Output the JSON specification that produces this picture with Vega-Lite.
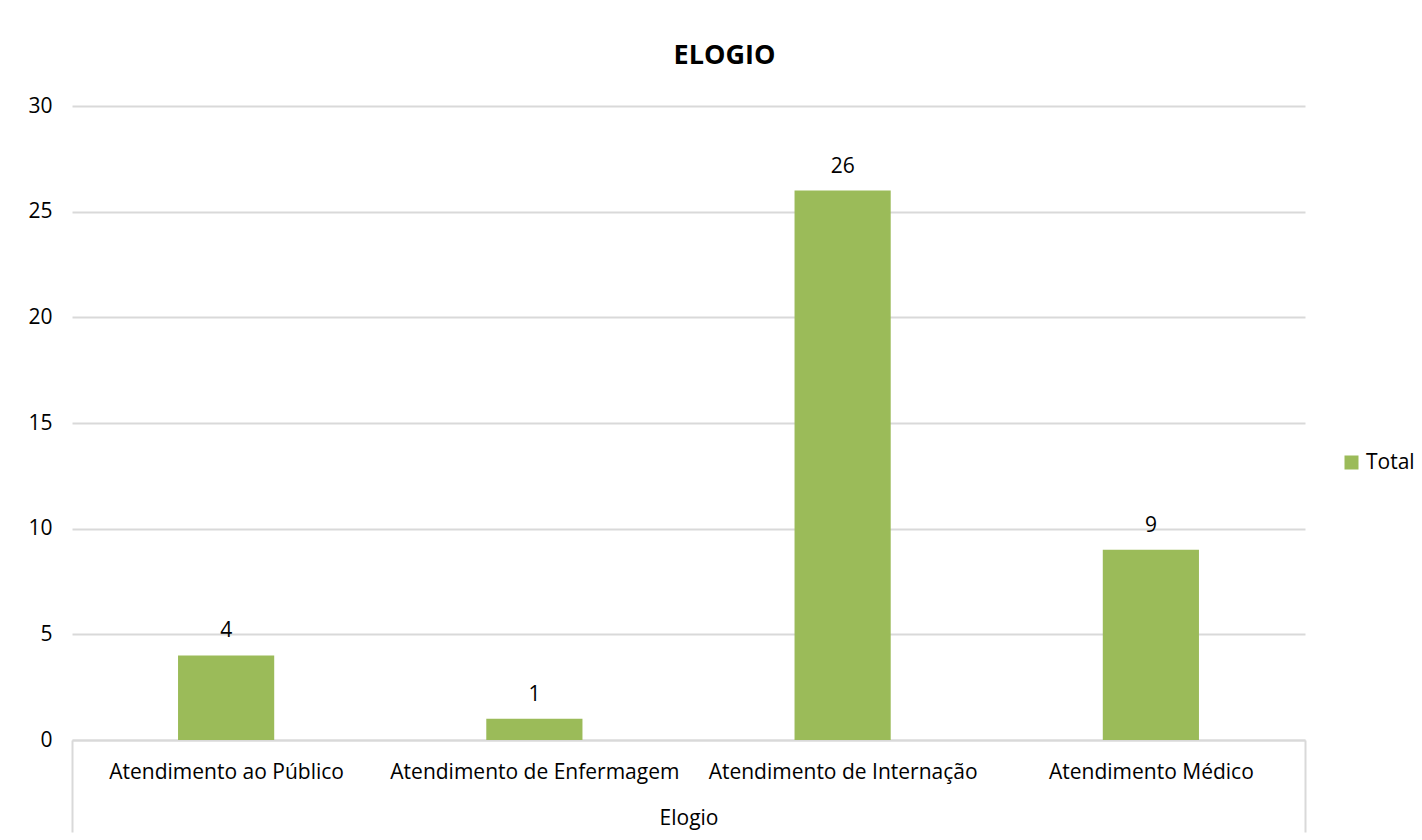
{
  "$schema": "https://vega.github.io/schema/vega-lite/v6.json",
  "autosize": {"type": "none"},
  "width": 1233,
  "height": 634,
  "padding": {"left": 72, "top": 106, "right": 117, "bottom": 100},
  "background": "white",
  "config": {
    "font": "Open Sans",
    "view": {"stroke": null}
  },
  "title": {
    "text": "ELOGIO",
    "fontSize": 27,
    "fontWeight": "bold",
    "color": "#000000",
    "font": "Open Sans",
    "anchor": "middle",
    "dx": 36,
    "offset": 25
  },
  "data": {
    "values": [
      {"categoria": "Atendimento ao Público", "total": 4, "serie": "Total"},
      {"categoria": "Atendimento de Enfermagem", "total": 1, "serie": "Total"},
      {"categoria": "Atendimento de Internação", "total": 26, "serie": "Total"},
      {"categoria": "Atendimento Médico", "total": 9, "serie": "Total"}
    ]
  },
  "encoding": {
    "x": {
      "field": "categoria",
      "type": "nominal",
      "sort": null,
      "scale": {"paddingInner": 0, "paddingOuter": 0},
      "axis": {
        "title": "Elogio",
        "titleFontSize": 21,
        "titleFontWeight": "normal",
        "titleColor": "#000000",
        "titleY": 78,
        "titleBaseline": "middle",
        "labelAngle": 0,
        "labelFontSize": 21,
        "labelColor": "#000000",
        "labelLimit": 400,
        "labelPadding": -60,
        "labelBaseline": "middle",
        "domainColor": "#d9d9d9",
        "domainWidth": 2,
        "tickBand": "extent",
        "tickSize": 92,
        "tickWidth": 2,
        "tickColor": {
          "condition": {
            "test": "(datum.value === 'Atendimento ao Público' && !datum.extra) || datum.value === 'Atendimento de Enfermagem' || datum.value === 'Atendimento de Internação'",
            "value": "transparent"
          },
          "value": "#d9d9d9"
        },
        "grid": false
      }
    }
  },
  "layer": [
    {
      "mark": {"type": "bar", "color": "#9BBB59", "width": {"band": 0.312}},
      "encoding": {
        "y": {
          "field": "total",
          "type": "quantitative",
          "scale": {"domain": [0, 30]},
          "axis": {
            "title": null,
            "values": [0, 5, 10, 15, 20, 25, 30],
            "labelFontSize": 21,
            "labelColor": "#000000",
            "labelPadding": 20,
            "ticks": false,
            "domain": false,
            "gridColor": "#d9d9d9",
            "gridWidth": 2
          }
        },
        "color": {
          "field": "serie",
          "type": "nominal",
          "scale": {"range": ["#9BBB59"]},
          "legend": {
            "title": null,
            "orient": "none",
            "legendX": 1269,
            "legendY": 346,
            "symbolType": "square",
            "symbolSize": 196,
            "symbolStrokeWidth": 0,
            "symbolOpacity": 1,
            "labelFontSize": 21,
            "labelOffset": 4,
            "labelColor": "#000000"
          }
        }
      }
    },
    {
      "mark": {"type": "text", "baseline": "middle", "dy": -24, "fontSize": 21, "color": "#000000"},
      "encoding": {
        "y": {"field": "total", "type": "quantitative"},
        "text": {"field": "total", "type": "quantitative"}
      }
    }
  ]
}
